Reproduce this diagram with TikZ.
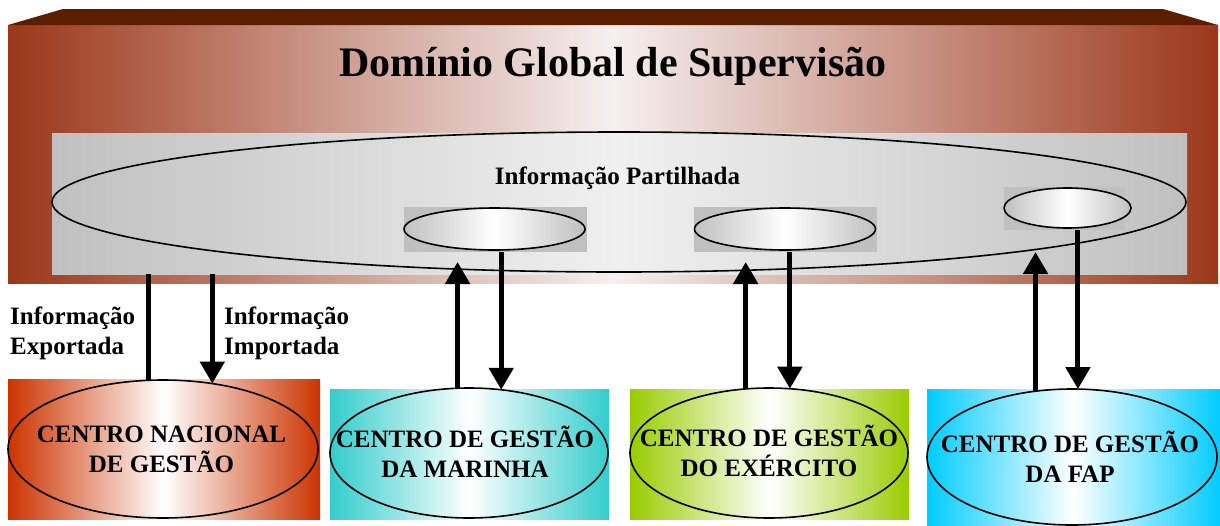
\documentclass[tikz,border=0pt]{standalone}
\usepackage{fontspec}
\setmainfont{Liberation Serif}
\usetikzlibrary{arrows.meta,shapes.geometric}
\definecolor{brownedge}{RGB}{155,55,25}
\definecolor{brownmid}{RGB}{246,240,240}
\definecolor{browntop}{RGB}{92,30,0}
\definecolor{grayedge}{RGB}{192,192,192}
\definecolor{graymid}{RGB}{240,240,240}
\definecolor{cngred}{RGB}{204,51,0}
\definecolor{marteal}{RGB}{51,204,204}
\definecolor{exegreen}{RGB}{153,204,0}
\definecolor{fapcyan}{RGB}{0,204,255}
\begin{document}
\begin{tikzpicture}[x=1pt,y=-1pt,
	panel/.style={inner sep=0pt,outer sep=0pt},
	shade/.style={left color=#1,right color=#1,middle color=white},
	oval/.style={ellipse,draw,line width=1.6pt,inner sep=0pt,outer sep=0pt},
	flow/.style={line width=5pt},
	flowto/.style={flow,-{Triangle[width=24pt,length=22pt]}},
	lbl/.style={font=\bfseries\fontsize{25}{30}\selectfont,align=center},
	side/.style={font=\bfseries\fontsize{25}{30}\selectfont,align=left,anchor=west,inner sep=0pt}]
	\useasboundingbox (0,0) rectangle (1220,525);
	% dominio global
	\node[panel,minimum width=1210pt,minimum height=258pt,left color=brownedge,right color=brownedge,middle color=brownmid] (domain) at (613,154) {};
	\fill[browntop] (domain.north west) -- ([shift={(55pt,16pt)}]domain.north west)
		-- ([shift={(-55pt,16pt)}]domain.north east) -- (domain.north east) -- cycle;
	\node[font=\bfseries\fontsize{42}{50}\selectfont,anchor=base] (title) at (613,76) {Domínio Global de Supervisão};
	\node[panel,minimum width=1135pt,minimum height=141pt,left color=grayedge,right color=grayedge,middle color=graymid] (shared) at (619.5,203.5) {};
	\node[oval,minimum width=1134pt,minimum height=140pt] (partilha) at (619,202) {};
	\node[lbl,anchor=base] (partilhatxt) at (617.5,184) {Informação Partilhada};
	% informacao partilhada por cada centro
	\node[panel,fill=grayedge,minimum width=183pt,minimum height=45pt] (marbg) at (495.5,229.5) {};
	\node[oval,shade=grayedge,minimum width=181pt,minimum height=42pt] (marsh) at (494.5,229) {};
	\node[panel,fill=grayedge,minimum width=183pt,minimum height=45pt] (exebg) at (785.5,229.5) {};
	\node[oval,shade=grayedge,minimum width=181pt,minimum height=42pt] (exesh) at (785,229) {};
	\node[panel,fill=grayedge,minimum width=121pt,minimum height=43pt] (fapbg) at (1064.5,208.5) {};
	\node[oval,shade=grayedge,minimum width=127pt,minimum height=40pt] (fapsh) at (1067.5,208) {};
	% centros
	\node[panel,shade=cngred,minimum width=312pt,minimum height=140pt] (cngbox) at (164,449) {};
	\node[oval,minimum width=310pt,minimum height=138pt] (cng) at (163,449) {};
	\node[lbl] (cngtxt) at (161.5,449.5) {CENTRO NACIONAL\\DE GESTÃO};
	\node[panel,shade=marteal,minimum width=279pt,minimum height=130pt] (marbox) at (469.5,454) {};
	\node[oval,minimum width=278pt,minimum height=130pt] (mar) at (469,453) {};
	\node[lbl] (martxt) at (465,451.5) {CENTRO DE GESTÃO\\DA MARINHA};
	\node[panel,shade=exegreen,minimum width=279pt,minimum height=130pt] (exebox) at (769.5,454) {};
	\node[oval,minimum width=278pt,minimum height=130pt] (exe) at (769,453) {};
	\node[lbl] (exetxt) at (769,451) {CENTRO DE GESTÃO\\DO EXÉRCITO};
	\node[panel,shade=fapcyan,minimum width=293pt,minimum height=136pt] (fapbox) at (1073.5,457) {};
	\node[oval,minimum width=290pt,minimum height=136pt] (fap) at (1072,457) {};
	\node[lbl] (faptxt) at (1070,456.5) {CENTRO DE GESTÃO\\DA FAP};
	% fluxos
	\draw[flow] (cng.102) -- (cng.102 |- shared.south);
	\draw[flowto] (cng.53 |- shared.south) -- (cng.53);
	\node[side] (exportada) at (10,333) {Informação\\Exportada};
	\node[side] (importada) at (224,333) {Informação\\Importada};
	\draw[flowto] (mar.100) -- ([yshift=-10pt]mar.100 |- marbg.south);
	\draw[flowto] (mar.63 |- marbg.south) -- (mar.63);
	\draw[flowto] (exe.110) -- ([yshift=-10pt]exe.110 |- exebg.south);
	\draw[flowto] (exe.72 |- exebg.south) -- (exe.72);
	\draw[flowto] (fap.119) -- ([yshift=-22pt]fap.119 |- fapbg.south);
	\draw[flowto] (fap.85 |- fapbg.south) -- (fap.85);
\end{tikzpicture}
\end{document}
